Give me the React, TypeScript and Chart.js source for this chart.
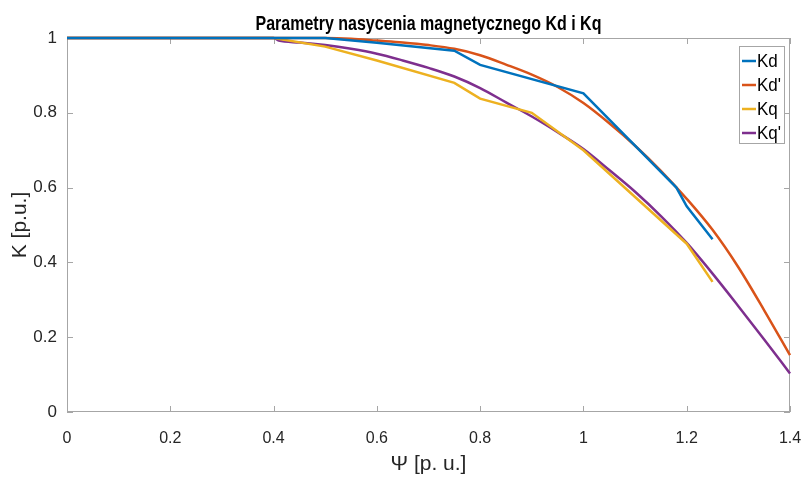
import React, { useEffect, useRef } from 'react';
import { Chart, registerables } from 'chart.js';
Chart.register(...registerables);

const TITLE = 'Parametry nasycenia magnetycznego Kd i Kq';
const X_LABEL = 'Ψ [p. u.]';
const Y_LABEL = 'K [p.u.]';
const seriesNames = ['Kd', "Kd'", 'Kq', "Kq'"];
const seriesColors = ['#0072BD', '#D95319', '#EDB120', '#7E2F8E'];
const seriesSmooth = [false, true, false, true];

const kdPsi = [0, 0.4, 0.5, 0.6, 0.75, 0.8, 1.0, 1.18, 1.2, 1.25];
const kdK = [1, 1, 1, 0.987, 0.966, 0.928, 0.852, 0.6, 0.55, 0.462];

const kdFitPsi = [0, 0.4, 0.45, 0.5, 0.55, 0.6, 0.65, 0.7, 0.75, 0.8, 0.85, 0.9, 0.95, 1.0, 1.05, 1.1, 1.15, 1.2, 1.25, 1.3, 1.35, 1.4];
const kdFitK = [1, 1, 1, 1, 0.998, 0.993, 0.988, 0.981, 0.971, 0.954, 0.929, 0.902, 0.869, 0.826, 0.772, 0.712, 0.645, 0.57, 0.487, 0.387, 0.272, 0.152];

const kqPsi = [0, 0.4, 0.5, 0.6, 0.75, 0.8, 0.9, 1.0, 1.2, 1.25];
const kqK = [1, 1, 0.977, 0.94, 0.88, 0.838, 0.8, 0.7, 0.45, 0.348];

const kqFitPsi = [0, 0.4, 0.41, 0.45, 0.5, 0.55, 0.6, 0.65, 0.7, 0.75, 0.8, 0.85, 0.9, 0.95, 1.0, 1.05, 1.1, 1.15, 1.2, 1.25, 1.3, 1.35, 1.4];
const kqFitK = [1, 1, 0.993, 0.988, 0.981, 0.971, 0.958, 0.94, 0.92, 0.897, 0.866, 0.828, 0.79, 0.748, 0.703, 0.647, 0.589, 0.524, 0.452, 0.37, 0.283, 0.194, 0.103];

const xTicksMin = 0, xTicksMax = 1.4, xStep = 0.2;
const yTicksMin = 0, yTicksMax = 1, yStep = 0.2;

const FONT = "'Liberation Sans', Arial, Helvetica, sans-serif";
const AXIS_GREY = '#a6a6a6';
const TEXT_DARK = '#262626';

const toPts = (xs: number[], ys: number[]) => xs.map((x, i) => ({ x, y: ys[i] }));
const fmt = (v: any) => String(Math.round(Number(v) * 100) / 100);

const boxPlugin = {
  id: 'matlabBox',
  beforeDatasetsDraw(chart: any) {
    const { ctx, chartArea: a, scales } = chart;
    ctx.save();
    ctx.strokeStyle = AXIS_GREY;
    ctx.lineWidth = 1;
    ctx.strokeRect(a.left + 0.5, a.top + 0.5, a.right - a.left - 1, a.bottom - a.top - 1);
    const tl = 6;
    ctx.beginPath();
    scales.x.ticks.forEach((t: any) => {
      const px = Math.round(scales.x.getPixelForValue(t.value)) + 0.5;
      ctx.moveTo(px, a.bottom); ctx.lineTo(px, a.bottom - tl);
      ctx.moveTo(px, a.top); ctx.lineTo(px, a.top + tl);
    });
    scales.y.ticks.forEach((t: any) => {
      const py = Math.round(scales.y.getPixelForValue(t.value)) + 0.5;
      ctx.moveTo(a.left, py); ctx.lineTo(a.left + tl, py);
      ctx.moveTo(a.right, py); ctx.lineTo(a.right - tl, py);
    });
    ctx.stroke();
    ctx.restore();
  },
  afterDraw(chart: any) {
    const { ctx, chartArea: a } = chart;
    ctx.save();
    // title (slightly tall, like the reference)
    ctx.fillStyle = '#000';
    ctx.font = `bold 16px ${FONT}`;
    ctx.textAlign = 'center';
    ctx.textBaseline = 'alphabetic';
    ctx.save();
    ctx.translate((a.left + a.right) / 2, 30);
    ctx.scale(1, 1.3);
    ctx.fillText(TITLE, 0, 0);
    ctx.restore();
    // legend
    const ds = chart.data.datasets;
    const bw = 45;
    const bx = a.right - 6 - bw;
    const by = a.top + 8, bh = 97;
    const rowH = 24;
    ctx.fillStyle = '#fff';
    ctx.fillRect(bx, by, bw, bh);
    ctx.strokeStyle = AXIS_GREY;
    ctx.lineWidth = 1;
    ctx.strokeRect(bx + 0.5, by + 0.5, bw, bh);
    ctx.font = `17px ${FONT}`;
    ctx.textAlign = 'left';
    ctx.textBaseline = 'middle';
    ds.forEach((d: any, i: number) => {
      const cy = by + 15 + i * rowH;
      ctx.strokeStyle = d.borderColor;
      ctx.lineWidth = 2.5;
      ctx.beginPath();
      ctx.moveTo(bx + 3, cy); ctx.lineTo(bx + 17, cy);
      ctx.stroke();
      ctx.fillStyle = '#000';
      ctx.save();
      ctx.translate(bx + 18, cy + 1);
      ctx.scale(1, 1.1);
      ctx.fillText(d.label, 0, 0);
      ctx.restore();
    });
    ctx.restore();
  },
};

export default function App() {
  const ref = useRef<HTMLCanvasElement>(null);
  useEffect(() => {
    const series = [toPts(kdPsi, kdK), toPts(kdFitPsi, kdFitK), toPts(kqPsi, kqK), toPts(kqFitPsi, kqFitK)];
    const chart = new Chart(ref.current!, {
      type: 'line',
      data: {
        datasets: series.map((data, i) => ({
          label: seriesNames[i],
          data,
          borderColor: seriesColors[i],
          backgroundColor: seriesColors[i],
          borderWidth: 2.5,
          pointRadius: 0,
          tension: 0,
          cubicInterpolationMode: seriesSmooth[i] ? 'monotone' : 'default',
          fill: false,
          clip: 6,
        })),
      },
      options: {
        responsive: false,
        animation: false,
        events: [],
        layout: { padding: { top: 38, right: 16, left: 0, bottom: 0 } },
        plugins: { legend: { display: false }, title: { display: false }, tooltip: { enabled: false } },
        scales: {
          x: {
            type: 'linear',
            min: xTicksMin,
            max: xTicksMax,
            afterFit: (s: any) => { s.height = 65; s.paddingLeft = 0; s.paddingRight = 0; },
            border: { display: false },
            grid: { display: false, drawTicks: false },
            ticks: { stepSize: xStep, padding: 17, color: TEXT_DARK, font: { family: FONT, size: 16 }, maxRotation: 0, callback: fmt },
            title: { display: true, text: X_LABEL, color: TEXT_DARK, font: { family: FONT, size: 21 }, padding: 0 },
          },
          y: {
            type: 'linear',
            min: yTicksMin,
            max: yTicksMax,
            afterFit: (s: any) => { s.width = 67; s.paddingTop = 0; s.paddingBottom = 0; },
            border: { display: false },
            grid: { display: false, drawTicks: false },
            ticks: { stepSize: yStep, padding: 10, color: TEXT_DARK, font: { family: FONT, size: 17 }, callback: fmt },
            title: { display: true, text: Y_LABEL, color: TEXT_DARK, font: { family: FONT, size: 21 }, padding: { top: 8, bottom: 0 } },
          },
        },
      },
      plugins: [boxPlugin],
    } as any);
    return () => chart.destroy();
  }, []);
  return (
    <div style={{ position: 'fixed', left: 0, top: 0, width: 806, height: 477, background: '#fff' }}>
      <canvas ref={ref} width={806} height={477} style={{ width: 806, height: 477, display: 'block' }} />
    </div>
  );
}
